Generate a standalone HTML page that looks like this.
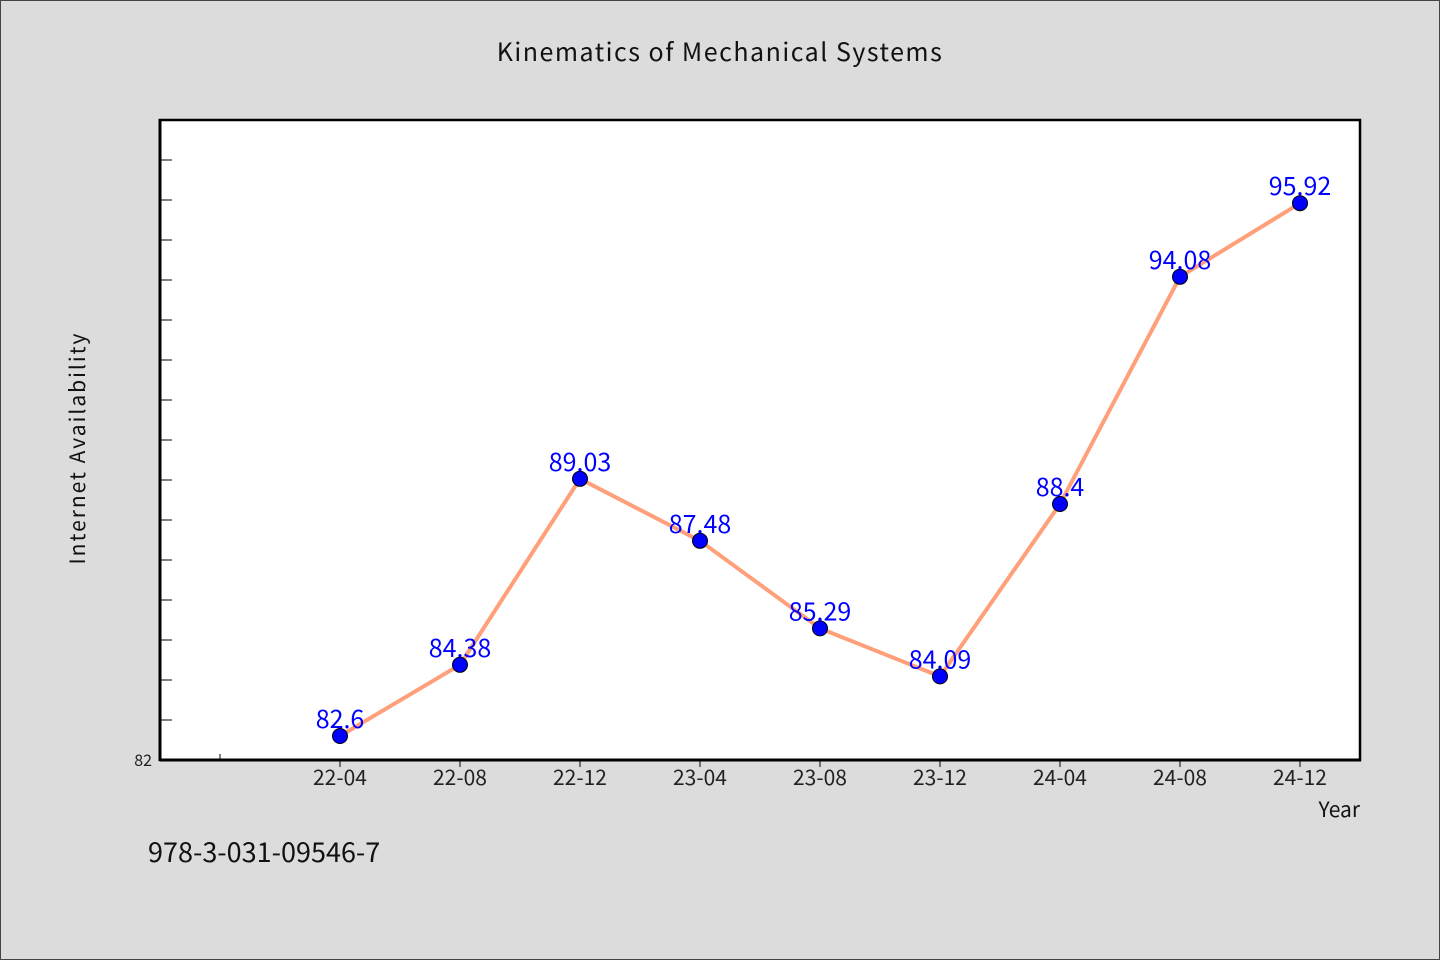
<!DOCTYPE html>
<html><head><meta charset="utf-8"><style>
body{margin:0;background:#dcdcdc;}
svg{display:block;font-family:"WenQuanYi Zen Hei","Noto Sans CJK SC","Liberation Sans",sans-serif;}
</style></head><body>
<svg id="chart" width="1440" height="960" viewBox="0 0 1440 960">
<rect x="0.5" y="0.5" width="1439" height="959" fill="#dcdcdc" stroke="#444"/>
<text x="720" y="61" text-anchor="middle" font-size="25" fill="#111" letter-spacing="1.5">Kinematics of Mechanical Systems</text>
<rect x="160" y="120" width="1200" height="640" fill="#fff" stroke="#000" stroke-width="2.5"/>
<line x1="160" y1="760" x2="1361" y2="760" stroke="#000" stroke-width="3"/>
<line x1="160" y1="119" x2="160" y2="761" stroke="#000" stroke-width="3"/>
<g id="yticks"></g><g id="xticks"></g><g id="series"></g>
<text x="152" y="766" text-anchor="end" font-size="16" fill="#222">82</text>
<text transform="translate(85,448) rotate(-90)" text-anchor="middle" font-size="21" fill="#111" letter-spacing="2">Internet Availability</text>
<text x="1360" y="817" text-anchor="end" font-size="21" fill="#111">Year</text>
<text x="148" y="862" font-size="27" fill="#111">978-3-031-09546-7</text>
</svg>
<script>
const categories=["22-04","22-08","22-12","23-04","23-08","23-12","24-04","24-08","24-12"];
const values=[82.6,84.38,89.03,87.48,85.29,84.09,88.4,94.08,95.92];
const yMin=82, yMax=98;
const NS="http://www.w3.org/2000/svg";
function y(v){return 760-(v-yMin)/(yMax-yMin)*640;}
function x(i){return 340+i*120;}
function mk(t,a,p){const e=document.createElementNS(NS,t);for(const k in a)e.setAttribute(k,a[k]);p.appendChild(e);return e;}
const yt=document.getElementById('yticks'),xt=document.getElementById('xticks'),s=document.getElementById('series');
for(let v=yMin+1;v<yMax;v++){const l=mk('line',{x1:160,x2:172,y1:y(v),y2:y(v),stroke:'#000','stroke-width':1},yt);

}
{const l=mk('line',{x1:x(-1),x2:x(-1),y1:754,y2:760,stroke:'#000','stroke-width':1},xt);

}
categories.forEach((c,i)=>{const l=mk('line',{x1:x(i),x2:x(i),y1:760,y2:767,stroke:'#000','stroke-width':1},xt);


const t=mk('text',{x:x(i),y:785,'text-anchor':'middle','font-size':21,fill:'#222'},xt);t.textContent=c;

});
const pl=mk('polyline',{points:values.map((v,i)=>x(i)+','+y(v)).join(' '),fill:'none',stroke:'#ffa07a','stroke-width':4},s);


values.forEach((v,i)=>{const c=mk('circle',{cx:x(i),cy:y(v),r:7.5,fill:'#0000ff',stroke:'#000','stroke-width':1},s);


const t=mk('text',{x:x(i),y:y(v)-8,'text-anchor':'middle','font-size':25,fill:'#0000ff'},s);t.textContent=String(v);

});
</script>
</body></html>
